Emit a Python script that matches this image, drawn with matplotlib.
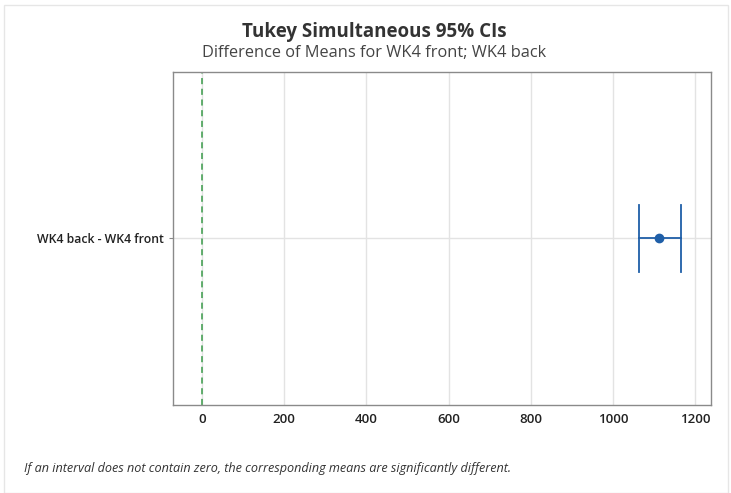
import matplotlib
matplotlib.use("Agg")
import matplotlib.pyplot as plt
from matplotlib.patches import Rectangle

# data
comparisons = ["WK4 back - WK4 front"]
diff_mean = [1112]
ci_lower = [1063]
ci_upper = [1166]
xticks = [0, 200, 400, 600, 800, 1000, 1200]

plt.rcParams['font.family'] = ['Open Sans', 'DejaVu Sans']

fig = plt.figure(figsize=(7.31, 4.93), dpi=100)
ax = fig.add_axes([0.2367, 0.1785, 0.7359, 0.6755])

ypos = list(range(len(comparisons)))
for i, y in enumerate(ypos):
    ax.plot([ci_lower[i], ci_upper[i]], [y, y], color='#1f5fa8', lw=1.3, zorder=3)
    for xv in (ci_lower[i], ci_upper[i]):
        ax.plot([xv, xv], [y - 0.1, y + 0.1], color='#1f5fa8', lw=1.3, zorder=3)
    ax.plot(diff_mean[i], y, 'o', color='#1f5fa8', ms=6, zorder=4)

ax.axvline(0, color='#3a9a4a', ls=(0, (4, 3)), lw=1.1, zorder=2)

ax.set_xlim(-71, 1239)
ax.set_ylim(-0.5, 0.5)
ax.set_xticks(xticks)
ax.set_yticks(ypos)
ax.set_yticklabels(comparisons, fontsize=8.8, color='#222222', fontweight='semibold')
ax.tick_params(axis='x', labelsize=9.5, colors='#222222', length=0, pad=6)
ax.tick_params(axis='y', length=3, color='#888888')
for lab in ax.get_xticklabels():
    lab.set_fontweight('semibold')
ax.grid(True, color='#e3e3e3', lw=1, zorder=0)
ax.set_axisbelow(True)
for s in ax.spines.values():
    s.set_color('#8a8a8a')
    s.set_linewidth(1)

fig.text(0.512, 0.935, "Tukey Simultaneous 95% CIs", ha='center', va='center',
         fontsize=13.5, fontweight='bold', color='#333333')
fig.text(0.512, 0.893, "Difference of Means for WK4 front; WK4 back", ha='center',
         va='center', fontsize=11.8, color='#444444')
fig.text(0.033, 0.049, "If an interval does not contain zero, the corresponding means are significantly different.",
         ha='left', va='center', fontsize=9.1, style='italic', color='#333333')

fig.patches.append(Rectangle((0.006, 0.0), 0.99, 0.99, transform=fig.transFigure,
                             fill=False, edgecolor='#e6e6e6', lw=1))

fig.savefig("out.png", dpi=100)
